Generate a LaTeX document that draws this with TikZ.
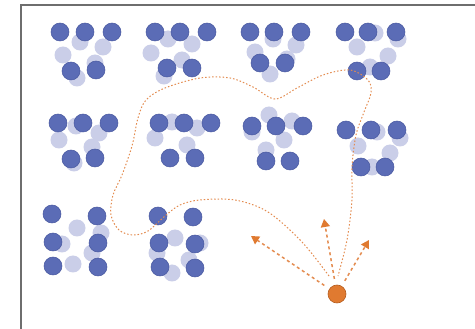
\documentclass[tikz,border=0pt]{standalone}
\usetikzlibrary{arrows.meta}
\definecolor{dotdark}{RGB}{91,108,182}
\definecolor{dotdarkline}{RGB}{72,88,160}
\definecolor{dotlight}{RGB}{202,206,232}
\definecolor{orangefill}{RGB}{224,122,48}
\definecolor{orangeline}{RGB}{180,92,30}
\definecolor{orangedash}{RGB}{228,140,80}
\definecolor{framegray}{RGB}{110,110,110}
\tikzset{
  darkdot/.style={circle,fill=dotdark,draw=dotdarkline,line width=0.5pt,minimum size=18pt,inner sep=0pt},
  lightdot/.style={circle,fill=dotlight,minimum size=17pt,inner sep=0pt},
  origin/.style={circle,fill=orangefill,draw=orangeline,line width=0.6pt,minimum size=18pt,inner sep=0pt},
  pathline/.style={draw=orangedash,line width=1pt,dash pattern=on 1.5pt off 2pt},
  arrowline/.style={draw=orangedash,line width=1.5pt,dash pattern=on 3pt off 3pt,shorten <=6pt,
    -{Triangle[length=8pt,width=9pt,color=orangefill,fill=orangefill]}},
  frameline/.style={draw=framegray,line width=1.3pt}
}
\begin{document}
\begin{tikzpicture}[x=1pt,y=-1pt]
\useasboundingbox (0,0) rectangle (475,329);
\fill[white] (0,0) rectangle (475,329);
\draw[frameline] (21,329) -- (21,5) -- (475,5);
% light dots (behind)
\foreach \x/\y [count=\i] in {
 80/42,103/47,63/55,95/63,77/78,
 168/39,192/44,151/53,182/60,164/76,
 273/39,296/45,255/52,287/59,270/74,
 375/33,398/39,357/47,388/56,370/67,
 76/126,99/133,59/140,92/147,74/163,
 172/122,197/128,155/138,187/145,
 269/115,292/121,252/132,284/140,266/150,
 377/132,400/138,358/146,390/153,372/167,
 77/228,101/233,62/244,92/253,73/264,
 175/238,200/243,157/253,189/260,172/273}
  \node[lightdot] (l\i) at (\x,\y) {};
% dark dots
\foreach \x/\y [count=\i] in {
 60/32,85/32,112/32,71/71,96/70,
 155/32,180/32,207/32,167/68,192/68,
 250/32,274/32,301/32,260/63,285/63,
 345/32,368/32,396/32,357/71,381/71,
 58/123,83/123,109/123,71/159,95/158,
 159/123,184/123,211/123,170/158,195/158,
 252/126,276/126,303/126,266/161,290/161,
 346/130,371/130,397/130,361/167,385/167,
 52/214,97/216,53/242,98/243,53/266,98/267,
 158/216,193/217,159/243,195/244,160/267,195/268}
  \node[darkdot] (d\i) at (\x,\y) {};
% winding path
\draw[pathline] plot[smooth,tension=0.55] coordinates {
 (329,276) (302,242) (268,212) (235,200) (200,200) (180,205) (165,216)
 (148,231) (133,235) (119,230) (111,215) (113,195) (122,175) (132,146)
 (138,118) (146,100) (165,88) (200,78) (230,78) (253,87) (275,99)
 (297,88) (323,75) (350,70) (368,80) (371,93) (364,112) (356,135)
 (352,167) (352,200) (347,240) (338,276)};
% origin and arrows
\node[origin] (o) at (337,294) {};
\coordinate (a1) at (251,236);
\coordinate (a2) at (324,219);
\coordinate (a3) at (369,240);
\draw[arrowline] (o) -- (a1);
\draw[arrowline] (o) -- (a2);
\draw[arrowline] (o) -- (a3);
\end{tikzpicture}
\end{document}
